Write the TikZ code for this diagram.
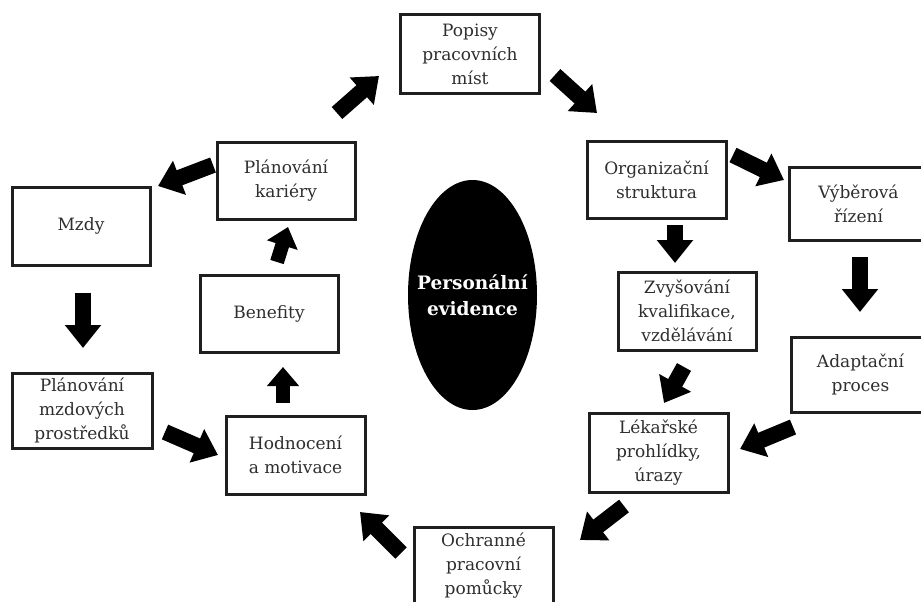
\documentclass[tikz,border=0pt]{standalone}
\usepackage{fontspec}
\setmainfont{DejaVu Serif}
\usetikzlibrary{arrows.meta,shapes.geometric}
\definecolor{txt}{gray}{0.18}
\definecolor{frame}{gray}{0.12}
\tikzset{
  box/.style={draw=frame, line width=3pt, fill=white, minimum width=#1, text=txt, align=center,
    font=\fontsize{17}{24}\selectfont, inner sep=0pt},
  box/.default=139pt,
  blk/.style={line width=16pt, draw=black, -{Triangle[length=23pt,width=35pt]}},
  blks/.style={line width=14pt, draw=black, -{Triangle[length=19pt,width=31pt]}},
}
\begin{document}
\begin{tikzpicture}[x=1pt,y=-1pt]
\clip (0,0) rectangle (921,602);
\fill[white] (0,0) rectangle (921,602);
% boxes
\node[box, minimum height=78pt] (pop) at (470,54) {Popisy\\pracovních\\míst};
\node[box, minimum height=77pt] (org) at (656.5,179.5) {Organizační\\struktura};
\node[box, minimum height=73pt] (vyb) at (858.5,203.5) {Výběrová\\řízení};
\node[box=138pt, minimum height=78pt] (zvy) at (687,311) {Zvyšování\\kvalifikace,\\vzdělávání};
\node[box, minimum height=75pt] (adap) at (860.5,374.5) {Adaptační\\proces};
\node[box, minimum height=79pt] (lek) at (658.5,452.5) {Lékařské\\prohlídky,\\úrazy};
\node[box, minimum height=78pt] (och) at (483.5,566) {Ochranné\\pracovní\\pomůcky};
\node[box, minimum height=78pt] (hod) at (295.5,455) {Hodnocení\\a motivace};
\node[box=138pt, minimum height=77pt] (ben) at (269,313.5) {Benefity};
\node[box=138pt, minimum height=77pt] (kar) at (286,180.5) {Plánování\\kariéry};
\node[box=138pt, minimum height=78pt] (mzdy) at (81,226) {Mzdy};
\node[box=140pt, minimum height=75pt] (pmz) at (82,410.5) {Plánování\\mzdových\\prostředků};
% central ellipse
\node[ellipse, fill=black, minimum width=129pt, minimum height=230pt, inner sep=0pt] (pe) at (472.5,295) {};
\node[text=white, align=center, inner sep=0pt, font=\fontsize{18.5}{26}\selectfont\bfseries] (pet) at (pe.center)
  {Personální\\evidence};
% arrow end points
\coordinate (a1t) at (213,165);  \coordinate (a1h) at (158,186);
\coordinate (a2t) at (83,293);   \coordinate (a2h) at (83,348);
\coordinate (a3t) at (165,432);  \coordinate (a3h) at (218,455);
\coordinate (a4t) at (283,403);  \coordinate (a4h) at (283,367);
\coordinate (a5t) at (277,262);  \coordinate (a5h) at (288,227);
\coordinate (a6t) at (337,113);  \coordinate (a6h) at (379,76);
\coordinate (a7t) at (555,75);   \coordinate (a7h) at (597,113);
\coordinate (a8t) at (733,155);  \coordinate (a8h) at (784,180);
\coordinate (a9t) at (675,225);  \coordinate (a9h) at (675,263);
\coordinate (a10t) at (860,257); \coordinate (a10h) at (860,312);
\coordinate (a11t) at (793,427); \coordinate (a11h) at (740,449);
\coordinate (a12t) at (684,367); \coordinate (a12h) at (664,403);
\coordinate (a13t) at (624,506); \coordinate (a13h) at (580,540);
\coordinate (a14t) at (401,553); \coordinate (a14h) at (360,512);
% block arrows
\draw[blk] (a1t) -- (a1h);
\draw[blk] (a2t) -- (a2h);
\draw[blk] (a3t) -- (a3h);
\draw[blks] (a4t) -- (a4h);
\draw[blks] (a5t) -- (a5h);
\draw[blk] (a6t) -- (a6h);
\draw[blk] (a7t) -- (a7h);
\draw[blk] (a8t) -- (a8h);
\draw[blk] (a9t) -- (a9h);
\draw[blk] (a10t) -- (a10h);
\draw[blk] (a11t) -- (a11h);
\draw[blk] (a12t) -- (a12h);
\draw[blk] (a13t) -- (a13h);
\draw[blk] (a14t) -- (a14h);
\end{tikzpicture}
\end{document}
